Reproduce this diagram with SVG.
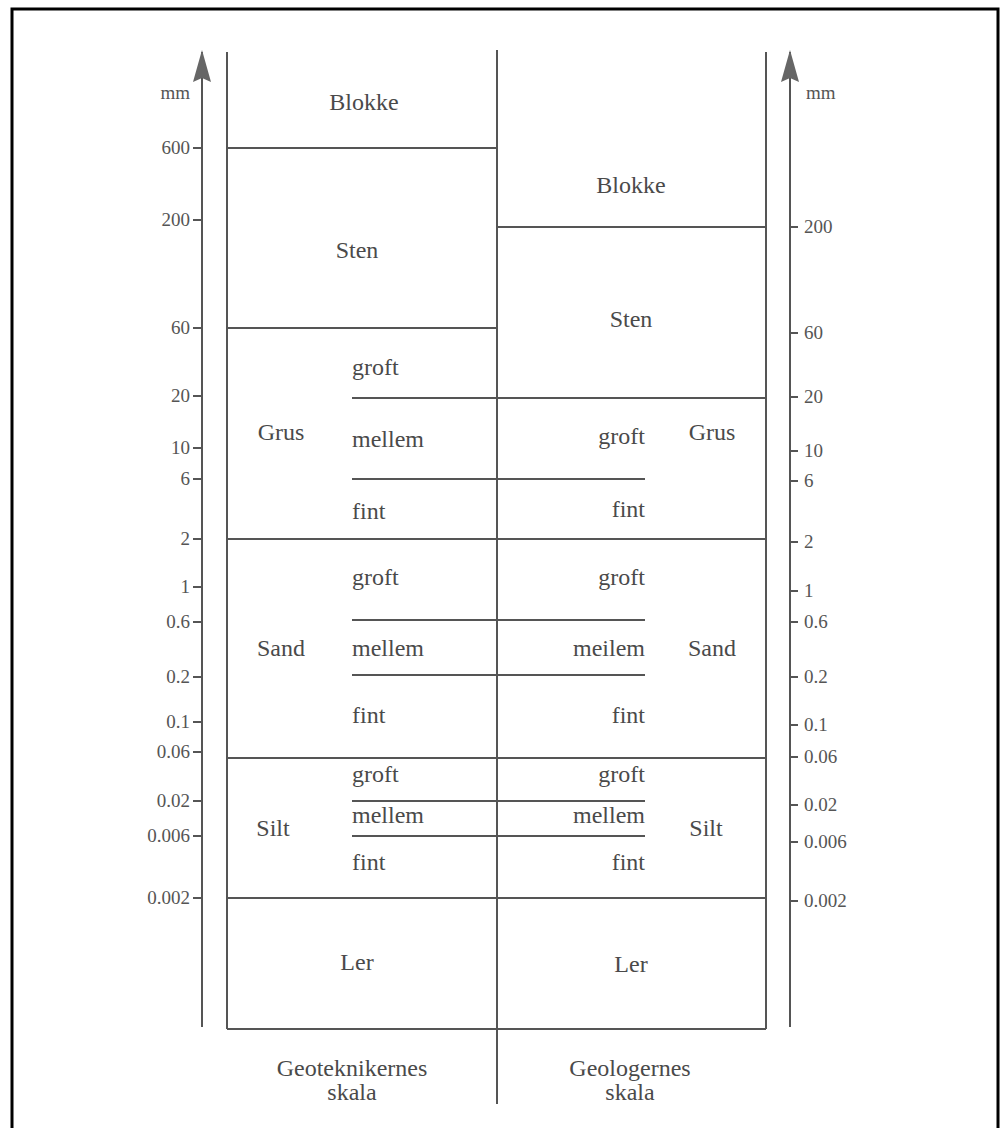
<svg xmlns="http://www.w3.org/2000/svg" width="1000" height="1128" viewBox="0 0 1000 1128">
<style>
.ln{stroke:#555;stroke-width:2;fill:none}
.lab{font-family:"Liberation Serif",serif;font-size:24px;fill:#4a4a4a}
.tk{font-family:"Liberation Serif",serif;font-size:19px;fill:#555}
.l{text-anchor:end}
.c{text-anchor:middle}
</style>
<defs>
<marker id="arr" viewBox="0 0 32 18" refX="30" refY="9" markerWidth="32" markerHeight="18" markerUnits="userSpaceOnUse" orient="auto">
<path d="M32 9 L0 0 L4 9 L0 18 Z" fill="#666"/>
</marker>
</defs>
<rect width="1000" height="1128" fill="#fff"/>
<path d="M12 1128 V9 H998 V1128" stroke="#000" stroke-width="3" fill="none"/>

<g id="connectors">
<!-- axes -->
<line class="ln" x1="202" y1="1027" x2="202" y2="52" marker-end="url(#arr)"/>
<line class="ln" x1="790" y1="1027" x2="790" y2="52" marker-end="url(#arr)"/>
<!-- box frame -->
<line class="ln" x1="227" y1="52" x2="227" y2="1029"/>
<line class="ln" x1="766" y1="52" x2="766" y2="1029"/>
<line class="ln" x1="497" y1="50" x2="497" y2="1104"/>
<line class="ln" x1="227" y1="1029" x2="766" y2="1029"/>
<!-- left scale boundaries -->
<line class="ln" x1="227" y1="148" x2="497" y2="148"/>
<line class="ln" x1="227" y1="328" x2="497" y2="328"/>
<line class="ln" x1="227" y1="539" x2="766" y2="539"/>
<line class="ln" x1="227" y1="758" x2="766" y2="758"/>
<line class="ln" x1="227" y1="898" x2="766" y2="898"/>
<!-- right scale boundaries -->
<line class="ln" x1="497" y1="227" x2="766" y2="227"/>
<line class="ln" x1="352" y1="398" x2="766" y2="398"/>
<!-- subdivisions -->
<line class="ln" x1="352" y1="479" x2="645" y2="479"/>
<line class="ln" x1="352" y1="620" x2="645" y2="620"/>
<line class="ln" x1="352" y1="675" x2="645" y2="675"/>
<line class="ln" x1="352" y1="801" x2="645" y2="801"/>
<line class="ln" x1="352" y1="836" x2="645" y2="836"/>
<!-- left ticks -->
<g class="ln">
<line x1="193" y1="148" x2="202" y2="148"/>
<line x1="193" y1="220" x2="202" y2="220"/>
<line x1="193" y1="328" x2="202" y2="328"/>
<line x1="193" y1="396" x2="202" y2="396"/>
<line x1="193" y1="448" x2="202" y2="448"/>
<line x1="193" y1="479" x2="202" y2="479"/>
<line x1="193" y1="539" x2="202" y2="539"/>
<line x1="193" y1="587" x2="202" y2="587"/>
<line x1="193" y1="622" x2="202" y2="622"/>
<line x1="193" y1="677" x2="202" y2="677"/>
<line x1="193" y1="722" x2="202" y2="722"/>
<line x1="193" y1="752" x2="202" y2="752"/>
<line x1="193" y1="801" x2="202" y2="801"/>
<line x1="193" y1="836" x2="202" y2="836"/>
<line x1="193" y1="898" x2="202" y2="898"/>
</g>
<!-- right ticks -->
<g class="ln">
<line x1="790" y1="227" x2="798" y2="227"/>
<line x1="790" y1="333" x2="798" y2="333"/>
<line x1="790" y1="397" x2="798" y2="397"/>
<line x1="790" y1="451" x2="798" y2="451"/>
<line x1="790" y1="481" x2="798" y2="481"/>
<line x1="790" y1="542" x2="798" y2="542"/>
<line x1="790" y1="591" x2="798" y2="591"/>
<line x1="790" y1="622" x2="798" y2="622"/>
<line x1="790" y1="677" x2="798" y2="677"/>
<line x1="790" y1="725" x2="798" y2="725"/>
<line x1="790" y1="757" x2="798" y2="757"/>
<line x1="790" y1="805" x2="798" y2="805"/>
<line x1="790" y1="842" x2="798" y2="842"/>
<line x1="790" y1="901" x2="798" y2="901"/>
</g>
</g>

<g id="left-axis-labels" class="tk l">
<text x="190" y="99">mm</text>
<text x="190" y="154">600</text>
<text x="190" y="226">200</text>
<text x="190" y="334">60</text>
<text x="190" y="402">20</text>
<text x="190" y="454">10</text>
<text x="190" y="485">6</text>
<text x="190" y="545">2</text>
<text x="190" y="593">1</text>
<text x="190" y="628">0.6</text>
<text x="190" y="683">0.2</text>
<text x="190" y="728">0.1</text>
<text x="190" y="758">0.06</text>
<text x="190" y="807">0.02</text>
<text x="190" y="842">0.006</text>
<text x="190" y="904">0.002</text>
</g>
<g id="right-axis-labels" class="tk">
<text x="806" y="99">mm</text>
<text x="804" y="233">200</text>
<text x="804" y="339">60</text>
<text x="804" y="403">20</text>
<text x="804" y="457">10</text>
<text x="804" y="487">6</text>
<text x="804" y="548">2</text>
<text x="804" y="597">1</text>
<text x="804" y="628">0.6</text>
<text x="804" y="683">0.2</text>
<text x="804" y="731">0.1</text>
<text x="804" y="763">0.06</text>
<text x="804" y="811">0.02</text>
<text x="804" y="848">0.006</text>
<text x="804" y="907">0.002</text>
</g>

<g id="geotek-blokke" class="lab c"><text x="364" y="110">Blokke</text></g>
<g id="geotek-sten" class="lab c"><text x="357" y="258">Sten</text></g>
<g id="geotek-grus" class="lab">
<text x="281" y="440" class="c">Grus</text>
<text x="352" y="375">groft</text>
<text x="352" y="447">mellem</text>
<text x="352" y="519">fint</text>
</g>
<g id="geotek-sand" class="lab">
<text x="281" y="656" class="c">Sand</text>
<text x="352" y="585">groft</text>
<text x="352" y="656">mellem</text>
<text x="352" y="723">fint</text>
</g>
<g id="geotek-silt" class="lab">
<text x="273" y="836" class="c">Silt</text>
<text x="352" y="782">groft</text>
<text x="352" y="823">mellem</text>
<text x="352" y="870">fint</text>
</g>
<g id="geotek-ler" class="lab c"><text x="357" y="970">Ler</text></g>

<g id="geolog-blokke" class="lab c"><text x="631" y="193">Blokke</text></g>
<g id="geolog-sten" class="lab c"><text x="631" y="327">Sten</text></g>
<g id="geolog-grus" class="lab">
<text x="712" y="440" class="c">Grus</text>
<text x="645" y="444" class="l">groft</text>
<text x="645" y="517" class="l">fint</text>
</g>
<g id="geolog-sand" class="lab">
<text x="712" y="656" class="c">Sand</text>
<text x="645" y="585" class="l">groft</text>
<text x="645" y="656" class="l">meilem</text>
<text x="645" y="723" class="l">fint</text>
</g>
<g id="geolog-silt" class="lab">
<text x="706" y="836" class="c">Silt</text>
<text x="645" y="782" class="l">groft</text>
<text x="645" y="823" class="l">mellem</text>
<text x="645" y="870" class="l">fint</text>
</g>
<g id="geolog-ler" class="lab c"><text x="631" y="972">Ler</text></g>

<g id="caption-left" class="lab c">
<text x="352" y="1076">Geoteknikernes</text>
<text x="352" y="1100">skala</text>
</g>
<g id="caption-right" class="lab c">
<text x="630" y="1076">Geologernes</text>
<text x="630" y="1100">skala</text>
</g>
</svg>
